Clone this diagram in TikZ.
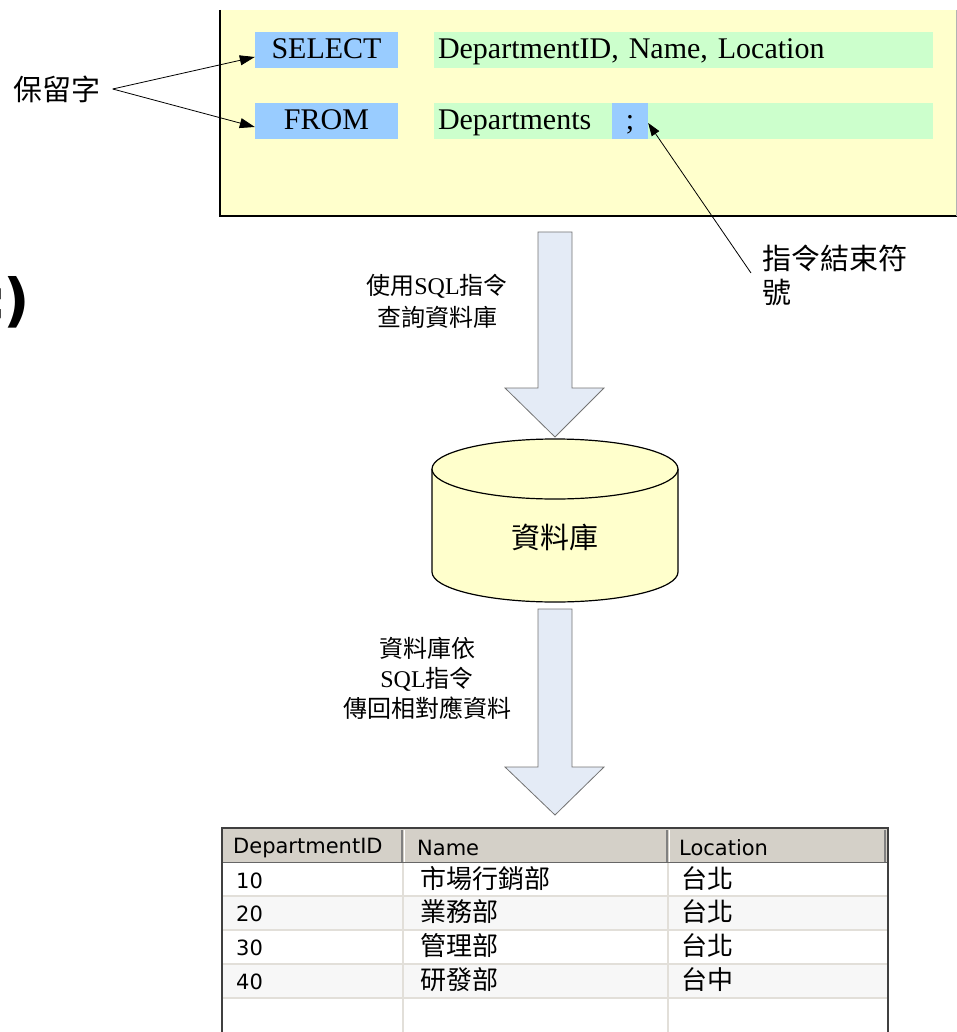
\documentclass[tikz,border=0pt]{standalone}
\usepackage{fontspec}
\setmainfont{Liberation Serif}
\newfontfamily\cjk{Noto Sans CJK TC}
\newfontfamily\dvs{DejaVu Sans}
\usetikzlibrary{arrows.meta,calc}
\definecolor{kwblue}{HTML}{99CCFF}
\definecolor{argreen}{HTML}{CCFFCC}
\definecolor{panel}{HTML}{FFFFCC}
\definecolor{flow}{HTML}{E4EBF6}
\definecolor{hdr}{HTML}{D4D0C8}
\definecolor{rowln}{HTML}{E2DFD9}
\definecolor{rowalt}{HTML}{F7F7F7}
\tikzset{
  big/.style={font=\fontsize{29}{34}\selectfont},
  code/.style={font=\fontsize{30}{34}\selectfont,text height=22pt,text depth=4pt},
  kwbox/.style={code,fill=kwblue,minimum width=143pt,minimum height=36pt,inner sep=0pt},
  argbox/.style={code,fill=argreen,text width=491pt,align=left,inner xsep=4pt,inner ysep=0pt,minimum height=36pt},
  ptr/.style={draw=black,line width=0.8pt,-{Triangle[length=15pt,width=10pt]}},
  blockarrow/.style={fill=flow,draw=gray!90!black,line width=0.8pt},
  th/.style={font=\dvs\fontsize{21}{24}\selectfont,anchor=west,inner sep=0pt},
  td/.style={font=\dvs\fontsize{21}{24}\selectfont,anchor=west,inner sep=0pt},
  tdc/.style={font=\cjk\fontsize{26}{28}\selectfont,anchor=west,inner sep=0pt},
}
\begin{document}
\begin{tikzpicture}[x=1pt,y=-1pt]
\useasboundingbox (0,0) rectangle (957,1032);
% partial text at left edge
\node[font=\dvs\bfseries\fontsize{58}{60}\selectfont,anchor=base east,inner sep=0pt] (cut) at (30,320) {;\kern-4pt)};
% yellow panel
\fill[panel] (219,10) rectangle (957,217);
\draw[black,line width=2pt] (220,10) -- (220,216.5) -- (957,216.5);
\draw[gray!60,line width=0.8pt] (956,10) -- (956,216);
% code boxes
\node[argbox] (arg1) at (683.5,50) {DepartmentID, Name, Location};
\node[argbox] (arg2) at (683.5,121) {Departments};
\node[kwbox] (sel) at (326.5,50) {SELECT};
\node[kwbox] (from) at (326.5,121) {FROM};
\node[kwbox,minimum width=36pt] (semi) at (630,121) {;};
% reserved word label
\node[big,inner xsep=12pt,inner ysep=0pt] (kw) at (57,89) {\cjk 保留字};
\draw[ptr] (kw.east) -- ($(sel.west)+(0,7)$);
\draw[ptr] (kw.east) -- ($(from.west)+(0,6)$);
% statement terminator label
\node[big,align=left,anchor=west,inner sep=0pt] (term) at (762,275) {\cjk 指令結束符\\\cjk 號};
\coordinate (termtail) at (751,273);
\draw[draw=black,line width=0.8pt,-{Triangle[length=13pt,width=9pt]}] (termtail) -- ($(semi.east)+(0,2)$);
% block arrow 1
\draw[blockarrow] (538,232) -- (572,232) -- (572,388) -- (604,388) -- (555,437) -- (505,388) -- (538,388) -- cycle;
\node[font=\fontsize{24}{32}\selectfont,align=center] (lab1) at (437,301) {{\cjk 使用}SQL{\cjk 指令}\\{\cjk 查詢資料庫}};
% database cylinder
\draw[fill=panel,line width=1.2pt] (432,469) -- (432,572) arc[start angle=180,end angle=0,x radius=123,y radius=30] -- (678,469);
\draw[fill=panel,line width=1.2pt] (555,469) ellipse[x radius=123,y radius=30];
\node[big] (db) at (555,537) {\cjk 資料庫};
% block arrow 2
\draw[blockarrow] (538,609) -- (572,609) -- (572,767) -- (604,767) -- (555,815) -- (505,767) -- (538,767) -- cycle;
\node[font=\fontsize{24}{30}\selectfont,align=center] (lab2) at (427,678) {{\cjk 資料庫依}\\SQL{\cjk 指令}\\{\cjk 傳回相對應資料}};
% result table
\fill[white] (222,828) rectangle (888,1032);
\fill[rowalt] (223,896) rectangle (887,930);
\fill[rowalt] (223,964) rectangle (887,998);
\fill[hdr] (222,828) rectangle (888,863);
\foreach \yy in {896,930,964,998} \draw[rowln,line width=2pt] (223,\yy) -- (887,\yy);
\draw[rowln,line width=2pt] (403,863) -- (403,1032);
\draw[rowln,line width=2pt] (668,863) -- (668,1032);
\draw[gray,line width=1.5pt] (402,830) -- (402,862);
\draw[white,line width=1pt] (404.5,830) -- (404.5,862);
\draw[gray,line width=1.5pt] (667,830) -- (667,862);
\draw[white,line width=1pt] (669.5,830) -- (669.5,862);
\draw[gray,line width=1.5pt] (885,830) -- (885,862);
\draw[gray!80!black,line width=1.5pt] (223,862.5) -- (887,862.5);
\draw[black!75,line width=2pt] (222,1032) -- (222,828) -- (888,828) -- (888,1032);
\node[th] (h1) at (233,848) {DepartmentID};
\node[th] (h2) at (417,848) {Name};
\node[th] (h3) at (679,848) {Location};
\node[td] (r1a) at (236,881) {10};
\node[tdc] (r1b) at (420,879) {市場行銷部};
\node[tdc] (r1c) at (681,879) {台北};
\node[td] (r2a) at (236,914) {20};
\node[tdc] (r2b) at (420,912) {業務部};
\node[tdc] (r2c) at (681,912) {台北};
\node[td] (r3a) at (236,948) {30};
\node[tdc] (r3b) at (420,946) {管理部};
\node[tdc] (r3c) at (681,946) {台北};
\node[td] (r4a) at (236,982) {40};
\node[tdc] (r4b) at (420,980) {研發部};
\node[tdc] (r4c) at (681,980) {台中};
\end{tikzpicture}
\end{document}
